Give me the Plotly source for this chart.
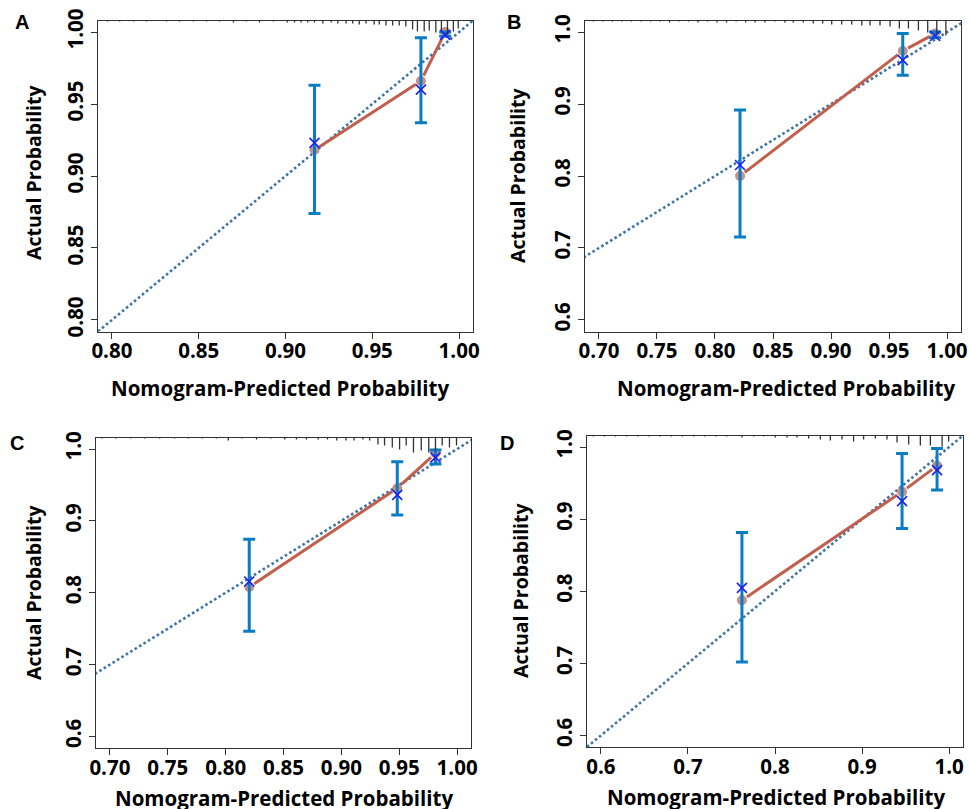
import plotly.graph_objects as go

W, H = 970, 809

# ---------------- data ----------------
# Panel A
a_pred = [0.9167, 0.978, 0.992]
a_apparent = [0.918, 0.966, 1.000]
a_corrected = [0.923, 0.960, 0.998]
a_lower = [0.874, 0.937, 0.997]
a_upper = [0.963, 0.996, 1.000]
a_rug_x = [0.7975, 0.8045, 0.8125, 0.8200, 0.8315, 0.8390, 0.8470, 0.8545, 0.8620, 0.8700,
           0.8775, 0.8850, 0.8930, 0.9010, 0.9052, 0.9090, 0.9128, 0.9167, 0.9215, 0.9263,
           0.9301, 0.9349, 0.9387, 0.9425, 0.9464, 0.9511, 0.9540, 0.9579, 0.9617, 0.9655,
           0.9693, 0.9732, 0.9760, 0.9799, 0.9828, 0.9866, 0.9898, 0.9933, 0.9967, 0.9995]
a_rug_n = [1, 1, 1, 1, 1, 1, 1, 1, 1, 2, 1, 2, 1, 2, 2, 2, 2, 2, 3, 2,
           3, 3, 3, 4, 3, 4, 4, 5, 5, 5, 6, 9, 11, 11, 10, 12, 10, 14, 11, 8]

# Panel B
b_pred = [0.8216, 0.9618, 0.9897]
b_apparent = [0.800, 0.9736, 0.998]
b_corrected = [0.8153, 0.961, 0.9944]
b_lower = [0.7153, 0.940, 0.992]
b_upper = [0.8917, 0.998, 1.000]
b_rug_x = [0.6952, 0.7034, 0.7116, 0.7198, 0.7280, 0.7362, 0.7444, 0.7526, 0.7608, 0.7690,
           0.7772, 0.7854, 0.7936, 0.8018, 0.8100, 0.8182, 0.8264, 0.8346, 0.8430, 0.8517,
           0.8603, 0.8675, 0.8761, 0.8847, 0.8928, 0.9006, 0.9092, 0.9178, 0.9265, 0.9336,
           0.9422, 0.9509, 0.9589, 0.9667, 0.9753, 0.9833, 0.9911, 0.9990]
b_rug_n = [1, 1, 1, 1, 1, 1, 1, 1, 2, 1, 1, 2, 1, 2, 2, 1, 2, 2, 2, 1,
           2, 2, 2, 3, 3, 4, 4, 4, 5, 5, 5, 6, 8, 8, 10, 12, 13, 15]

# Panel C
c_pred = [0.8204, 0.9483, 0.9813]
c_apparent = [0.8079, 0.9454, 0.994]
c_corrected = [0.8157, 0.9361, 0.9884]
c_lower = [0.7463, 0.9083, 0.9792]
c_upper = [0.8746, 0.9824, 0.9986]
c_rug_x = [0.6930, 0.7050, 0.7180, 0.7300, 0.7430, 0.7560, 0.7680, 0.7800, 0.7920, 0.8023,
           0.8140, 0.8267, 0.8390, 0.8511, 0.8612, 0.8698, 0.8800, 0.8880, 0.8960, 0.9040,
           0.9110, 0.9186, 0.9244, 0.9316, 0.9373, 0.9440, 0.9503, 0.9560, 0.9623, 0.9690,
           0.9755, 0.9813, 0.9871, 0.9934, 0.9995]
c_rug_n = [1, 1, 1, 1, 1, 1, 1, 1, 1, 3, 1, 2, 1, 2, 2, 2, 2, 2, 3, 3,
           3, 2, 3, 7, 8, 10, 12, 8, 15, 13, 15, 13, 8, 10, 8]

# Panel D
d_pred = [0.762, 0.946, 0.9862]
d_apparent = [0.7875, 0.938, 0.974]
d_corrected = [0.8046, 0.925, 0.968]
d_lower = [0.7018, 0.887, 0.9403]
d_upper = [0.8815, 0.9912, 0.998]
d_rug_x = [0.5912, 0.6040, 0.6168, 0.6296, 0.6424, 0.6552, 0.6680, 0.6808, 0.6936, 0.7064,
           0.7192, 0.7320, 0.7448, 0.7621, 0.7754, 0.7869, 0.8003, 0.8138, 0.8253, 0.8386,
           0.8521, 0.8636, 0.8770, 0.8903, 0.9018, 0.9153, 0.9287, 0.9402, 0.9536, 0.9670,
           0.9785, 0.9920, 0.9995]
d_rug_n = [1, 1, 1, 1, 1, 1, 1, 1, 1, 1, 1, 1, 1, 2, 1, 1, 2, 2, 2, 3,
           4, 5, 4, 6, 4, 3, 4, 7, 9, 10, 10, 11, 6]

x_title = "Nomogram-Predicted Probability"
y_title = "Actual Probability"

# tick values / labels
a_ticks = [0.80, 0.85, 0.90, 0.95, 1.00]
a_ticklabels = ["0.80", "0.85", "0.90", "0.95", "1.00"]
bc_xticks = [0.70, 0.75, 0.80, 0.85, 0.90, 0.95, 1.00]
bc_xticklabels = ["0.70", "0.75", "0.80", "0.85", "0.90", "0.95", "1.00"]
p1_ticks = [0.6, 0.7, 0.8, 0.9, 1.0]
p1_ticklabels = ["0.6", "0.7", "0.8", "0.9", "1.0"]

# ---------------- layout geometry (pixels) ----------------
panels = [
    dict(key="A", pred=a_pred, app=a_apparent, cor=a_corrected, lo=a_lower, hi=a_upper,
         rx=a_rug_x, rn=a_rug_n, px=(98, 473), py=(20.5, 331.5),
         xr=[0.792, 1.008], yr=[0.792, 1.008],
         xt=(a_ticks, a_ticklabels), yt=(a_ticks, a_ticklabels),
         letter=(22, 22), xtitle=(280, 388), ytitle=(33, 172)),
    dict(key="B", pred=b_pred, app=b_apparent, cor=b_corrected, lo=b_lower, hi=b_upper,
         rx=b_rug_x, rn=b_rug_n, px=(585, 961), py=(20.5, 331.5),
         xr=[0.688, 1.012], yr=[0.584, 1.016],
         xt=(bc_xticks, bc_xticklabels), yt=(p1_ticks, p1_ticklabels),
         letter=(514, 22), xtitle=(786, 388), ytitle=(518, 175)),
    dict(key="C", pred=c_pred, app=c_apparent, cor=c_corrected, lo=c_lower, hi=c_upper,
         rx=c_rug_x, rn=c_rug_n, px=(96, 471), py=(437.5, 748),
         xr=[0.688, 1.012], yr=[0.584, 1.016],
         xt=(bc_xticks, bc_xticklabels), yt=(p1_ticks, p1_ticklabels),
         letter=(17, 443), xtitle=(284, 798), ytitle=(33, 592)),
    dict(key="D", pred=d_pred, app=d_apparent, cor=d_corrected, lo=d_lower, hi=d_upper,
         rx=d_rug_x, rn=d_rug_n, px=(587, 963), py=(435.5, 747),
         xr=[0.584, 1.016], yr=[0.584, 1.016],
         xt=(p1_ticks, p1_ticklabels), yt=(p1_ticks, p1_ticklabels),
         letter=(507, 443), xtitle=(776, 797), ytitle=(520, 590)),
]

RED = "#C25E4C"
BAR = "#0A7CC4"
DIAG = "#3F74A8"
FONT = "Open Sans"
TICK_SIZE = 20.5
XTITLE_SIZE = 20.5
YTITLE_SIZE = 19.5
GAP_PX = 6

fig = go.Figure()
layout = dict(width=W, height=H, margin=dict(l=0, r=0, t=0, b=0, autoexpand=False),
              plot_bgcolor="white", paper_bgcolor="white", showlegend=False)
shapes = []
annotations = []

for i, p in enumerate(panels):
    n = "" if i == 0 else str(i + 1)
    xa, ya = "x" + n, "y" + n
    wpx = p["px"][1] - p["px"][0]
    hpx = p["py"][1] - p["py"][0]
    sx = wpx / (p["xr"][1] - p["xr"][0])
    sy = hpx / (p["yr"][1] - p["yr"][0])

    # diagonal
    lo_d = min(p["xr"][0], p["yr"][0])
    hi_d = max(p["xr"][1], p["yr"][1])
    fig.add_trace(go.Scatter(x=[lo_d, hi_d], y=[lo_d, hi_d], mode="lines",
                             line=dict(color=DIAG, width=2.6, dash="2.6px,2.6px"),
                             xaxis=xa, yaxis=ya, hoverinfo="skip"))

    # apparent line with gaps at the points
    lx, ly = [], []
    for k in range(len(p["pred"]) - 1):
        x0, y0 = p["pred"][k], p["app"][k]
        x1, y1 = p["pred"][k + 1], p["app"][k + 1]
        dx, dy = (x1 - x0) * sx, (y1 - y0) * sy
        L = (dx * dx + dy * dy) ** 0.5
        t = min(GAP_PX / L, 0.3)
        lx += [x0 + (x1 - x0) * t, x0 + (x1 - x0) * (1 - t), None]
        ly += [y0 + (y1 - y0) * t, y0 + (y1 - y0) * (1 - t), None]
    fig.add_trace(go.Scatter(x=lx, y=ly, mode="lines", line=dict(color=RED, width=3),
                             xaxis=xa, yaxis=ya, hoverinfo="skip"))
    fig.add_trace(go.Scatter(x=p["pred"], y=p["app"], mode="markers",
                             marker=dict(color="#B8766A", size=10, opacity=0.8),
                             xaxis=xa, yaxis=ya))

    # error bars
    plus = [h - c for h, c in zip(p["hi"], p["cor"])]
    minus = [c - l for c, l in zip(p["cor"], p["lo"])]
    fig.add_trace(go.Scatter(x=p["pred"], y=p["cor"], mode="markers",
                             marker=dict(size=1, color="rgba(0,0,0,0)"),
                             error_y=dict(type="data", array=plus, arrayminus=minus,
                                          thickness=3, width=6, color=BAR),
                             xaxis=xa, yaxis=ya))
    fig.add_trace(go.Scatter(x=p["pred"], y=p["cor"], mode="markers",
                             marker=dict(symbol="x-thin", size=10,
                                         line=dict(color="#2020F0", width=1.6)),
                             xaxis=xa, yaxis=ya))

    # top rug (spike histogram)
    for rx, rn in zip(p["rx"], p["rn"]):
        shapes.append(dict(type="line", xref=xa, yref=ya + " domain",
                           x0=rx, x1=rx, y0=1, y1=1 - rn / hpx,
                           line=dict(color="#333", width=1.3)))

    axis_common = dict(showgrid=False, zeroline=False, showline=True, mirror=True,
                       automargin=False,
                       linecolor="#333", linewidth=1, ticks="outside", ticklen=6,
                       tickcolor="#333", tickwidth=1,
                       tickfont=dict(family=FONT, size=TICK_SIZE, color="black", weight="bold"))
    layout["xaxis" + n] = dict(axis_common, domain=[p["px"][0] / W, p["px"][1] / W],
                               range=p["xr"], anchor=ya, ticklabelstandoff=-5,
                               tickvals=p["xt"][0], ticktext=p["xt"][1])
    layout["yaxis" + n] = dict(axis_common, domain=[1 - p["py"][1] / H, 1 - p["py"][0] / H],
                               range=p["yr"], anchor=xa, tickangle=-90,
                               tickvals=p["yt"][0], ticktext=p["yt"][1])

    annotations.append(dict(text=p["key"], x=p["letter"][0] / W, y=1 - p["letter"][1] / H,
                            xref="paper", yref="paper", showarrow=False,
                            xanchor="center", yanchor="middle",
                            font=dict(family="Liberation Sans", size=20, color="black",
                                      weight="bold")))
    annotations.append(dict(text=x_title, x=p["xtitle"][0] / W, y=1 - p["xtitle"][1] / H,
                            xref="paper", yref="paper", showarrow=False,
                            xanchor="center", yanchor="middle",
                            font=dict(family=FONT, size=XTITLE_SIZE, color="black",
                                      weight="bold")))
    annotations.append(dict(text=y_title, x=p["ytitle"][0] / W, y=1 - p["ytitle"][1] / H,
                            xref="paper", yref="paper", showarrow=False, textangle=-90,
                            xanchor="center", yanchor="middle",
                            font=dict(family=FONT, size=YTITLE_SIZE, color="black",
                                      weight="bold")))

layout["shapes"] = shapes
layout["annotations"] = annotations
fig.update_layout(**layout)
fig.write_html("out.html", config={"displayModeBar": False},
               post_script="document.body.style.margin='0px';"
                           "document.body.style.overflow='hidden';")
